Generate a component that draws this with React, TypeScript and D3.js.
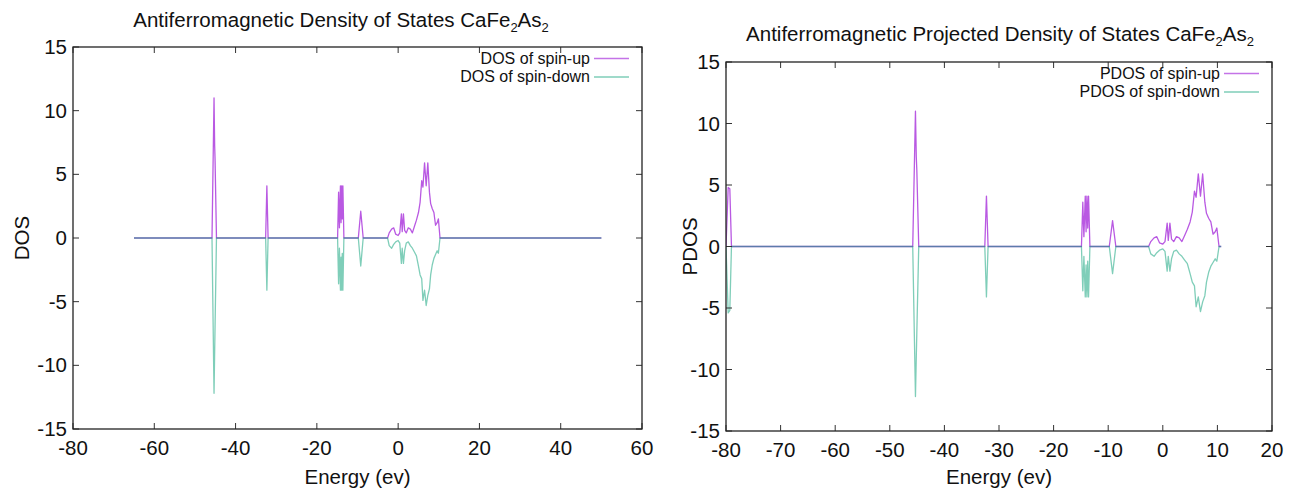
import React from 'react';
import * as d3 from 'd3';

const W = 1291;
const H = 490;

// band features shared by both plots (energy in eV)
const bandEnergy = [
  -45.8, -45.3, -45.15, -45.05, -44.7,
  -32.6, -32.3, -32.0,
  -14.9, -14.65, -14.45, -14.2, -14.05, -13.9, -13.75, -13.6, -13.35,
  -9.8, -9.2, -8.6,
  -2.6, -2.2, -1.6, -1.1, -0.6, 0.0, 0.4, 0.8, 1.0, 1.3, 1.6, 2.0, 2.5, 3.0, 3.5,
  4.0, 4.5, 5.0, 5.4, 5.8, 6.1, 6.5, 6.9, 7.3, 7.7, 8.0, 8.4, 8.8, 9.2, 9.6, 9.9, 10.3,
];
const bandUp = [
  0, 11.0, 7.3, 6.2, 0,
  0, 4.1, 0,
  0, 3.6, 0.8, 4.1, 1.2, 4.1, 1.5, 4.1, 0,
  0, 2.1, 0,
  0, 0.4, 0.7, 0.8, 0.3, 0.2, 0.4, 1.9, 0.5, 1.9, 0.6, 0.4, 0.8, 0.7, 0.4,
  0.9, 1.4, 2.0, 2.8, 4.5, 4.0, 5.9, 4.1, 5.9, 3.6, 2.7, 2.3, 2.0, 1.0, 1.2, 1.5, 0,
];
const bandDown = [
  0, -12.2, -9.0, -7.0, 0,
  0, -4.1, 0,
  0, -3.6, -0.8, -4.1, -1.5, -4.1, -1.2, -4.1, 0,
  0, -2.2, 0,
  0, -0.6, -0.8, -0.5, -0.3, -0.2, -0.4, -2.0, -0.8, -2.0, -1.0, -0.4, -0.3, -0.6, -0.8,
  -1.1, -1.4, -2.2, -2.9, -3.2, -4.9, -4.1, -5.3, -4.5, -4.0, -2.9, -2.1, -1.6, -1.3, -1.0, -1.2, 0,
];

// total DOS runs from -65 to 50 eV
const dosStart = -65;
const dosEnd = 50;

// PDOS has an extra deep level near -80 eV and stops at 10.7 eV
const coreEnergy = [-80, -79.6, -79.3, -79.0];
const coreUp = [0, 4.8, 4.7, 0];
const coreDown = [0, -5.4, -5.2, 0];
const pdosEnd = 10.7;

const dosXTicks = [-80, -60, -40, -20, 0, 20, 40, 60];
const pdosXTicks = [-80, -70, -60, -50, -40, -30, -20, -10, 0, 10, 20];
const yTicks = [-15, -10, -5, 0, 5, 10, 15];

const UP = '#9400d3';
const DOWN = '#009e73';
const FONT = 'Liberation Sans, Arial, Helvetica, sans-serif';

type Pt = [number, number];

const dosUpPts: Pt[] = [[dosStart, 0], ...bandEnergy.map((e, i) => [e, bandUp[i]] as Pt), [dosEnd, 0]];
const dosDownPts: Pt[] = [[dosStart, 0], ...bandEnergy.map((e, i) => [e, bandDown[i]] as Pt), [dosEnd, 0]];
const pdosUpPts: Pt[] = [
  ...coreEnergy.map((e, i) => [e, coreUp[i]] as Pt),
  ...bandEnergy.map((e, i) => [e, bandUp[i]] as Pt),
  [pdosEnd, 0],
];
const pdosDownPts: Pt[] = [
  ...coreEnergy.map((e, i) => [e, coreDown[i]] as Pt),
  ...bandEnergy.map((e, i) => [e, bandDown[i]] as Pt),
  [pdosEnd, 0],
];

type PanelProps = {
  id: string;
  left: number;
  right: number;
  top: number;
  bottom: number;
  xDomain: [number, number];
  xTicks: number[];
  title: string;
  titleX: number;
  titleY: number;
  yLabel: string;
  yLabelX: number;
  upLabel: string;
  downLabel: string;
  up: Pt[];
  down: Pt[];
};

const Panel = (p: PanelProps) => {
  const x = d3.scaleLinear().domain(p.xDomain).range([p.left, p.right]);
  const y = d3.scaleLinear().domain([-15, 15]).range([p.bottom, p.top]);
  const line = d3.line<Pt>().x(d => x(d[0])).y(d => y(d[1]));
  const tl = 6;
  const legX = p.right - 52;
  const legY1 = p.top + 11.5;
  const legY2 = legY1 + 18.5;

  return (
    <g>
      <defs>
        <clipPath id={p.id}>
          <rect x={p.left} y={p.top} width={p.right - p.left} height={p.bottom - p.top} />
        </clipPath>
      </defs>

      {/* title */}
      <text x={p.titleX} y={p.titleY} textAnchor="middle" fontSize={20.5} fontFamily={FONT} fill="#111">
        {p.title} CaFe<tspan dy={5} fontSize={13}>2</tspan>
        <tspan dy={-5}>As</tspan>
        <tspan dy={5} fontSize={13}>2</tspan>
      </text>

      {/* lines */}
      <g clipPath={`url(#${p.id})`} fill="none" strokeWidth={1.3} strokeLinejoin="round">
        <path d={line(p.up) || ''} stroke={UP} strokeOpacity={0.65} />
        <path d={line(p.down) || ''} stroke={DOWN} strokeOpacity={0.5} />
      </g>

      {/* ticks */}
      <g stroke="#333" strokeWidth={1}>
        {p.xTicks.map(t => (
          <g key={'x' + t}>
            <line x1={x(t)} x2={x(t)} y1={p.bottom} y2={p.bottom - tl} />
            <line x1={x(t)} x2={x(t)} y1={p.top} y2={p.top + tl} />
          </g>
        ))}
        {yTicks.map(t => (
          <g key={'y' + t}>
            <line x1={p.left} x2={p.left + tl} y1={y(t)} y2={y(t)} />
            <line x1={p.right} x2={p.right - tl} y1={y(t)} y2={y(t)} />
          </g>
        ))}
      </g>

      {/* frame */}
      <rect x={p.left} y={p.top} width={p.right - p.left} height={p.bottom - p.top} fill="none" stroke="#222" strokeWidth={1.3} />

      {/* tick labels */}
      <g fontSize={20.5} fontFamily={FONT} fill="#111">
        {p.xTicks.map(t => (
          <text key={'xl' + t} x={x(t)} y={p.bottom + 26} textAnchor="middle">{t}</text>
        ))}
        {yTicks.map(t => (
          <text key={'yl' + t} x={p.left - 6} y={y(t) + 7} textAnchor="end">{t}</text>
        ))}
      </g>

      {/* axis labels */}
      <text x={(p.left + p.right) / 2} y={H - 6} textAnchor="middle" fontSize={20.5} fontFamily={FONT} fill="#111">
        Energy (ev)
      </text>
      <text
        transform={`translate(${p.yLabelX},${(p.top + p.bottom) / 2}) rotate(-90)`}
        textAnchor="middle"
        fontSize={20.5}
        fontFamily={FONT}
        fill="#111"
      >
        {p.yLabel}
      </text>

      {/* legend */}
      <g fontSize={16} fontFamily={FONT} fill="#111">
        <text x={legX} y={legY1 + 5} textAnchor="end">{p.upLabel}</text>
        <text x={legX} y={legY2 + 5} textAnchor="end">{p.downLabel}</text>
      </g>
      <line x1={legX + 4} x2={p.right - 13} y1={legY1} y2={legY1} stroke={UP} strokeOpacity={0.55} strokeWidth={1.5} />
      <line x1={legX + 4} x2={p.right - 13} y1={legY2} y2={legY2} stroke={DOWN} strokeOpacity={0.5} strokeWidth={1.5} />
    </g>
  );
};

export default function App() {
  return (
    <svg
      width={W}
      height={H}
      viewBox={`0 0 ${W} ${H}`}
      style={{ position: 'absolute', left: 0, top: 0, background: '#fff' }}
    >
      <Panel
        id="clip-dos"
        left={73}
        right={642}
        top={47}
        bottom={429}
        xDomain={[-80, 60]}
        xTicks={dosXTicks}
        title="Antiferromagnetic Density of States"
        titleX={341}
        titleY={27}
        yLabel="DOS"
        yLabelX={29}
        upLabel="DOS of spin-up"
        downLabel="DOS of spin-down"
        up={dosUpPts}
        down={dosDownPts}
      />
      <Panel
        id="clip-pdos"
        left={726}
        right={1272}
        top={62}
        bottom={431}
        xDomain={[-80, 20]}
        xTicks={pdosXTicks}
        title="Antiferromagnetic Projected Density of States"
        titleX={1000}
        titleY={41}
        yLabel="PDOS"
        yLabelX={697}
        upLabel="PDOS of spin-up"
        downLabel="PDOS of spin-down"
        up={pdosUpPts}
        down={pdosDownPts}
      />
    </svg>
  );
}
